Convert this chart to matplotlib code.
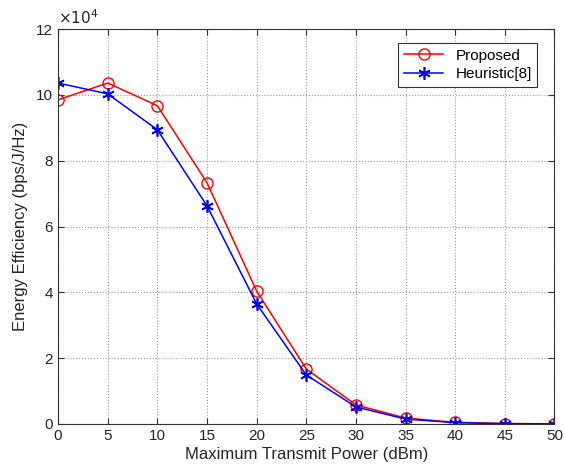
import matplotlib
matplotlib.use("Agg")
import matplotlib.pyplot as plt

# Potência máxima de transmissão (dBm)
potencia = [0, 5, 10, 15, 20, 25, 30, 35, 40, 45, 50]

# Eficiência energética (bps/J/Hz)
proposto = [98500, 103600, 96700, 73300, 40400, 16700, 5800, 1800, 500, 150, 50]
heuristico = [103600, 100300, 89400, 66300, 36500, 14900, 5200, 1500, 400, 100, 30]

plt.rcParams["font.family"] = ["Liberation Sans", "DejaVu Sans"]
cor_texto = "#262626"

fig = plt.figure(figsize=(5.64, 4.73), dpi=100)
ax = fig.add_axes([0.103, 0.1036, 0.880, 0.835])

ax.plot(potencia, proposto, color="red", marker="o", markersize=8,
        markerfacecolor="none", linewidth=1.1, label="Proposed")
ax.plot(potencia, heuristico, color="blue", marker=(6, 2, 0), markersize=9,
        markeredgewidth=1.2, linewidth=1.1, label="Heuristic[8]")

ax.set_xlim(0, 50)
ax.set_ylim(0, 120000)
ax.set_xticks(range(0, 51, 5))
ax.set_yticks(range(0, 120001, 20000))
ax.set_yticklabels(["0", "2", "4", "6", "8", "10", "12"])
ax.tick_params(direction="in", top=True, right=True, labelsize=11, length=4,
               labelcolor=cor_texto, color="#333333")
for lado in ax.spines.values():
    lado.set_color("#333333")
ax.grid(True, linestyle=":", color="#999999", linewidth=0.8)

ax.text(0.0, 1.005, r"$\times10^{4}$", transform=ax.transAxes,
        fontsize=11, ha="left", va="bottom", color=cor_texto)

ax.set_xlabel("Maximum Transmit Power (dBm)", fontsize=12, labelpad=3,
              color=cor_texto)
ax.set_ylabel("Energy Efficiency (bps/J/Hz)", fontsize=12, labelpad=6,
              color=cor_texto)

leg = ax.legend(loc="upper right", bbox_to_anchor=(0.975, 0.975), fontsize=11,
                fancybox=False, edgecolor="#333333", framealpha=1,
                handlelength=2.6, borderaxespad=0.3, labelspacing=0.3,
                borderpad=0.35)
leg.get_frame().set_linewidth(0.8)

# Mostrar o gráfico
fig.savefig("out.png", dpi=100)
